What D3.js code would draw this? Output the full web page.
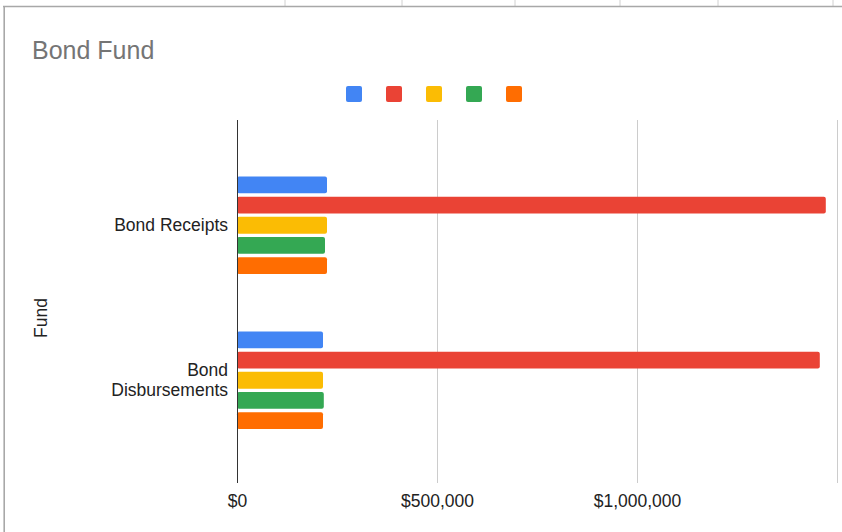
<!DOCTYPE html>
<html>
  <head>
    <meta charset="utf-8">
    <title>Bond Fund</title>
    <script type="text/javascript" src="https://cdn.jsdelivr.net/npm/d3@7"></script>
    <style>
      body { margin: 0; background: #fff; }
      svg { display: block; font-family: "Liberation Sans", Arial, sans-serif; }
    </style>
  </head>
  <body>
    <script type="text/javascript">
      // Størrelse
      const w = 842;
      const h = 532;

      // Data
      const categories = ["Bond Receipts", "Bond Disbursements"];
      const series = ["s1", "s2", "s3", "s4", "s5"];
      const colors = ["#4285F4", "#EA4335", "#FBBC04", "#34A853", "#FF6D01"];
      const receipts = [225000, 1472000, 225000, 220000, 225000];
      const disbursements = [215000, 1457000, 215000, 217000, 215000];
      const xTicks = [0, 500000, 1000000, 1500000];
      const sheetCols = [285, 402, 515, 620, 718, 833]; // regneark-linjer i toppen

      const values = [receipts, disbursements];

      const svg = d3.select("body").append("svg")
        .attr("width", w)
        .attr("height", h);

      // Regneark-celler bag diagrammet
      svg.selectAll("line.col")
        .data(sheetCols)
        .enter()
        .append("line")
        .attr("x1", d => d).attr("x2", d => d)
        .attr("y1", 0).attr("y2", 6)
        .attr("stroke", "#d0d0d0");

      // Ramme
      svg.append("line")
        .attr("x1", 3).attr("x2", w).attr("y1", 6.5).attr("y2", 6.5)
        .attr("stroke", "#a8a8a8").attr("stroke-width", 1.6);
      svg.append("line")
        .attr("x1", 4.2).attr("x2", 4.2).attr("y1", 6).attr("y2", h)
        .attr("stroke", "#a8a8a8").attr("stroke-width", 1.6);

      // Titel
      svg.append("text")
        .attr("x", 32).attr("y", 59)
        .attr("font-size", 25)
        .attr("fill", "#757575")
        .text("Bond Fund");

      // Legende (uden tekst)
      svg.selectAll("rect.legend")
        .data(series)
        .enter()
        .append("rect")
        .attr("x", (d, i) => 346 + i * 40)
        .attr("y", 86)
        .attr("width", 16).attr("height", 16)
        .attr("rx", 2)
        .attr("fill", (d, i) => colors[i]);

      // Skalaer
      const xScale = d3.scaleLinear()
        .domain([0, 1500000])
        .range([237, 837]);

      const yScale = d3.scaleBand()
        .domain(categories)
        .range([147.5, 457.5]);

      const inner = d3.scaleBand()
        .domain(series)
        .range([-48.5, 49])
        .paddingInner(0.17);

      const plotTop = 120;
      const plotBottom = 483;

      // Gitterlinjer
      svg.selectAll("line.grid")
        .data(xTicks.slice(1))
        .enter()
        .append("line")
        .attr("x1", d => Math.round(xScale(d)) + 0.5)
        .attr("x2", d => Math.round(xScale(d)) + 0.5)
        .attr("y1", plotTop).attr("y2", plotBottom)
        .attr("stroke", "#cccccc");

      // Bars
      const groups = svg.selectAll("g.cat")
        .data(categories)
        .enter()
        .append("g")
        .attr("transform", d => "translate(0," + (yScale(d) + yScale.bandwidth() / 2) + ")");

      groups.selectAll("rect")
        .data((d, ci) => values[ci].map((v, i) => ({ v: v, s: series[i], c: colors[i] })))
        .enter()
        .append("rect")
        .attr("x", xScale(0))
        .attr("y", d => inner(d.s))
        .attr("width", d => xScale(d.v) - xScale(0))
        .attr("height", inner.bandwidth())
        .attr("rx", 2)
        .attr("fill", d => d.c);

      // Akse ved nul
      svg.append("line")
        .attr("x1", 237.5).attr("x2", 237.5)
        .attr("y1", plotTop).attr("y2", plotBottom)
        .attr("stroke", "#333333");

      // X-akse tekster
      const xAxis = d3.axisBottom(xScale)
        .tickValues(xTicks.slice(0, 3))
        .tickSize(0)
        .tickPadding(0)
        .tickFormat(d => "$" + d3.format(",")(d));
      const gx = svg.append("g")
        .attr("transform", "translate(0, 495)")
        .call(xAxis);
      gx.select(".domain").remove();
      gx.selectAll("text")
        .attr("font-size", 17.5)
        .attr("font-family", "Liberation Sans, Arial, sans-serif")
        .attr("fill", "#222");

      // Y-akse tekster (med linjeskift)
      const yLabels = svg.selectAll("text.ylab")
        .data(categories)
        .enter()
        .append("text")
        .attr("text-anchor", "end")
        .attr("font-size", 17.5)
        .attr("fill", "#222");

      yLabels.each(function (d) {
        const lines = d === "Bond Disbursements" ? ["Bond", "Disbursements"] : [d];
        const cy = yScale(d) + yScale.bandwidth() / 2;
        const t = d3.select(this);
        lines.forEach((l, i) => {
          t.append("tspan")
            .attr("x", 228)
            .attr("y", cy + 6 + (i - (lines.length - 1) / 2) * 20)
            .text(l);
        });
      });

      // Akse-titel
      svg.append("text")
        .attr("transform", "translate(47, 318) rotate(-90)")
        .attr("text-anchor", "middle")
        .attr("font-size", 17.5)
        .attr("fill", "#222")
        .text("Fund");
    </script>
  </body>
</html>
